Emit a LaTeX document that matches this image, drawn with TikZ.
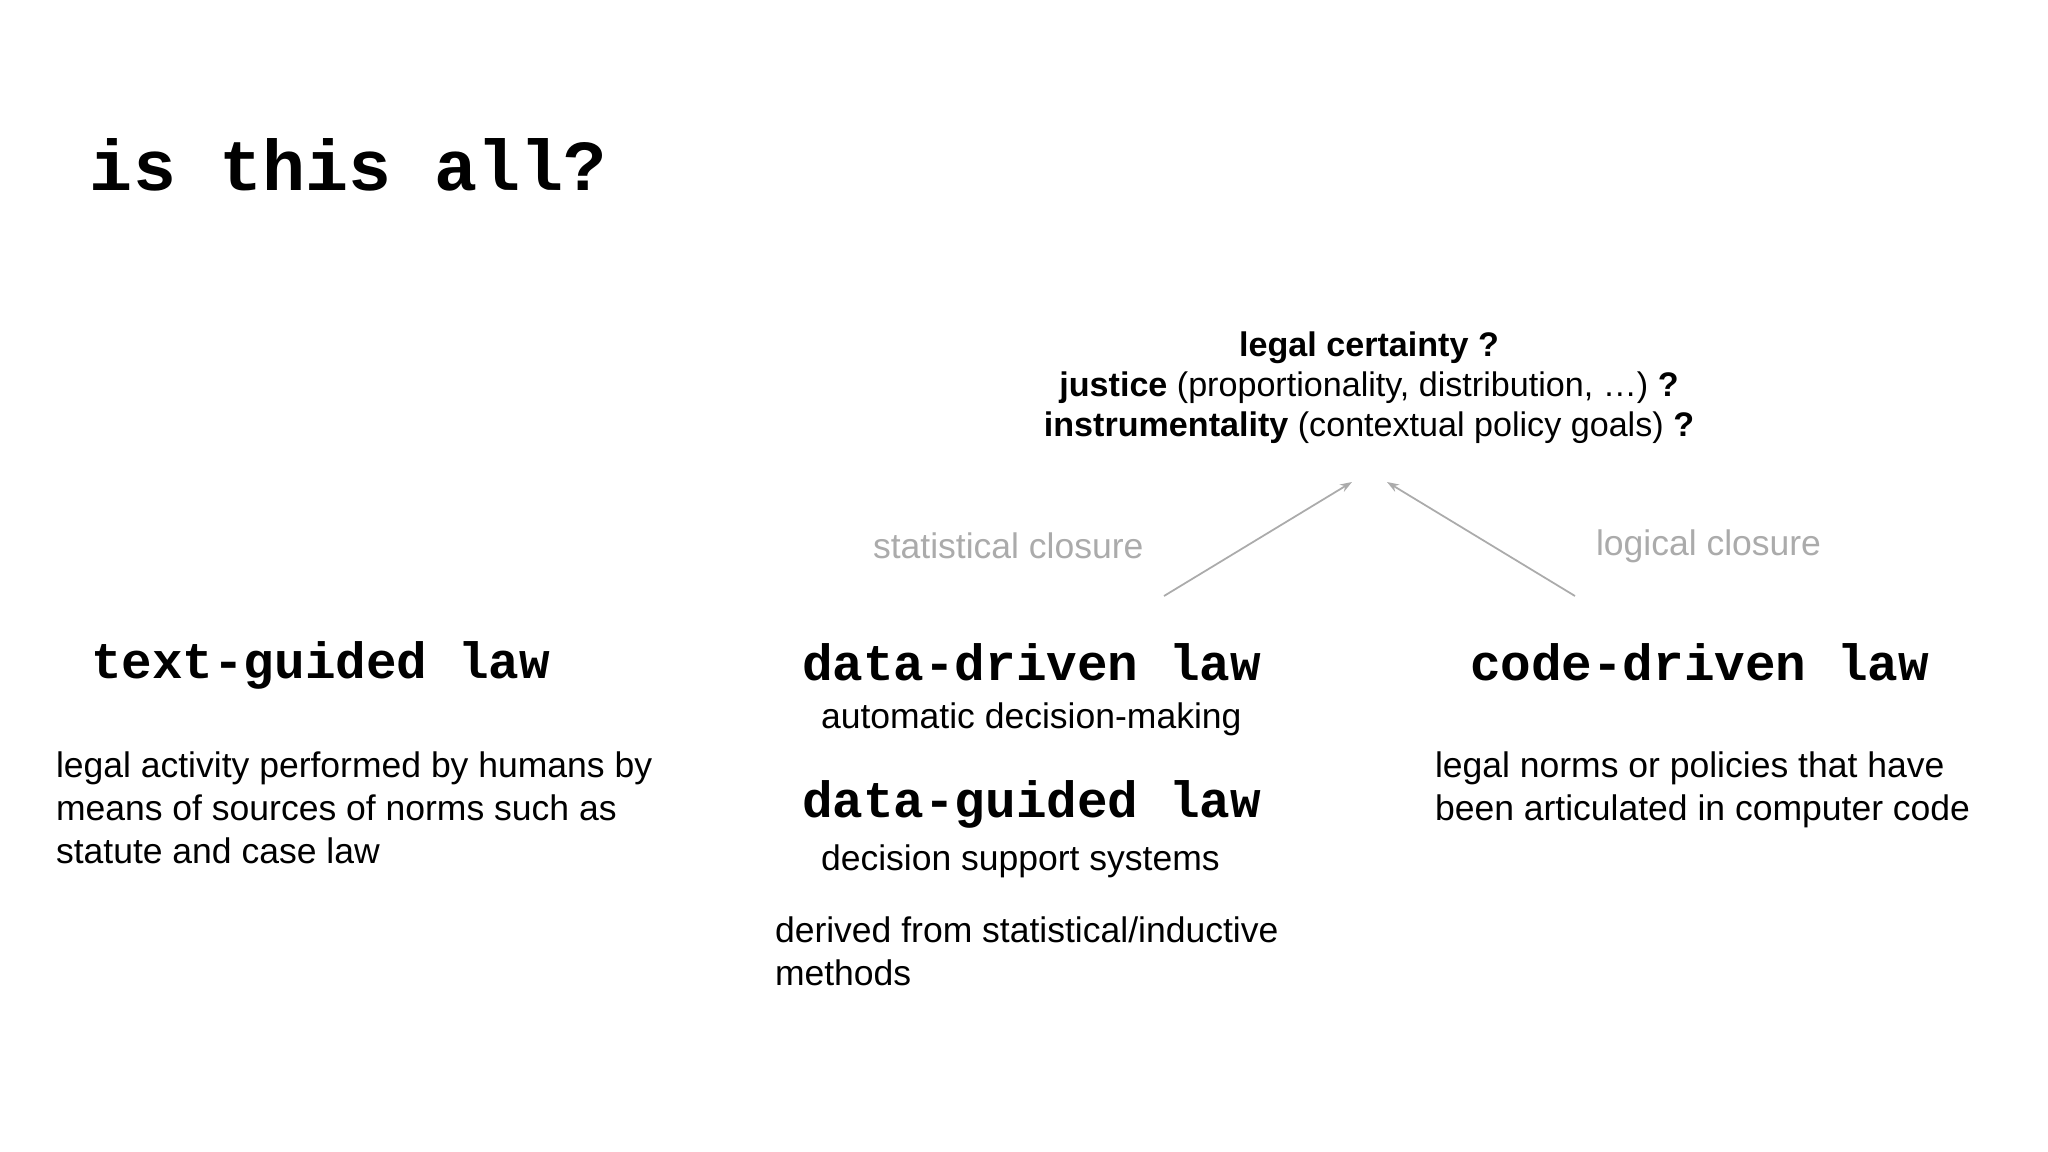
\documentclass[tikz,border=0pt]{standalone}
\usepackage{fontspec}
\setmainfont{Liberation Sans}
\setmonofont{Liberation Mono}
\usetikzlibrary{arrows.meta}
\definecolor{closuregray}{HTML}{ABABAB}

\begin{document}
\begin{tikzpicture}[
    x = 0.01cm, y = -0.01cm,
    > = {Stealth[length=3.4pt,width=2.4pt]},
    every node/.style = {inner sep=0pt, outer sep=0pt},
    headline/.style = {anchor=base west, font=\fontsize{20.4}{25}\selectfont\ttfamily\bfseries},
    lawname/.style = {anchor=base west, font=\fontsize{14.5}{18}\selectfont\ttfamily\bfseries},
    gloss/.style = {anchor=base west, align=left, font=\fontsize{10.1}{12.1}\selectfont},
    closure/.style = {anchor=base west, text=closuregray, font=\fontsize{10.1}{12.1}\selectfont},
    link/.style = {->, color=closuregray, line width=0.5pt}
]
    \useasboundingbox (0,0) rectangle (2048,1152);

    \node[headline] (title) at (90,191) {is this all?};

    % the three kinds of law (multi-line glosses sit on their last baseline)
    \node[lawname] (textlaw) at (91,679) {text-guided law};
    \node[lawname] (datadriven) at (802,680) {data-driven law};
    \node[lawname] (dataguided) at (802,817) {data-guided law};
    \node[lawname] (codelaw) at (1470,680) {code-driven law};

    \node[gloss] (textdesc) at (56,863) {legal activity performed by humans by\\means of sources of norms such as\\statute and case law};
    \node[gloss] (adm) at (821,728) {automatic decision-making};
    \node[gloss] (dss) at (821,870) {decision support systems};
    \node[gloss] (datadesc) at (775,985) {derived from statistical/inductive\\methods};
    \node[gloss] (codedesc) at (1435,820) {legal norms or policies that have\\been articulated in computer code};

    % what is at stake
    \node[anchor=base, align=center, font=\fontsize{9.7}{11.5}\selectfont] (goals) at (1369,437)
        {\textbf{legal certainty ?}\\
         \textbf{justice} (proportionality, distribution, …) \textbf{?}\\
         \textbf{instrumentality} (contextual policy goals) \textbf{?}};

    \node[closure] (statlabel) at (873,559) {statistical closure};
    \node[closure] (loglabel) at (1596,555) {logical closure};

    \coordinate (statfoot) at (1164,596);
    \coordinate (stattip) at (1352,482);
    \coordinate (logfoot) at (1575,596);
    \coordinate (logtip) at (1387,482);

    \path[link]
        (statfoot) edge (stattip)
        (logfoot) edge (logtip);
\end{tikzpicture}
\end{document}
